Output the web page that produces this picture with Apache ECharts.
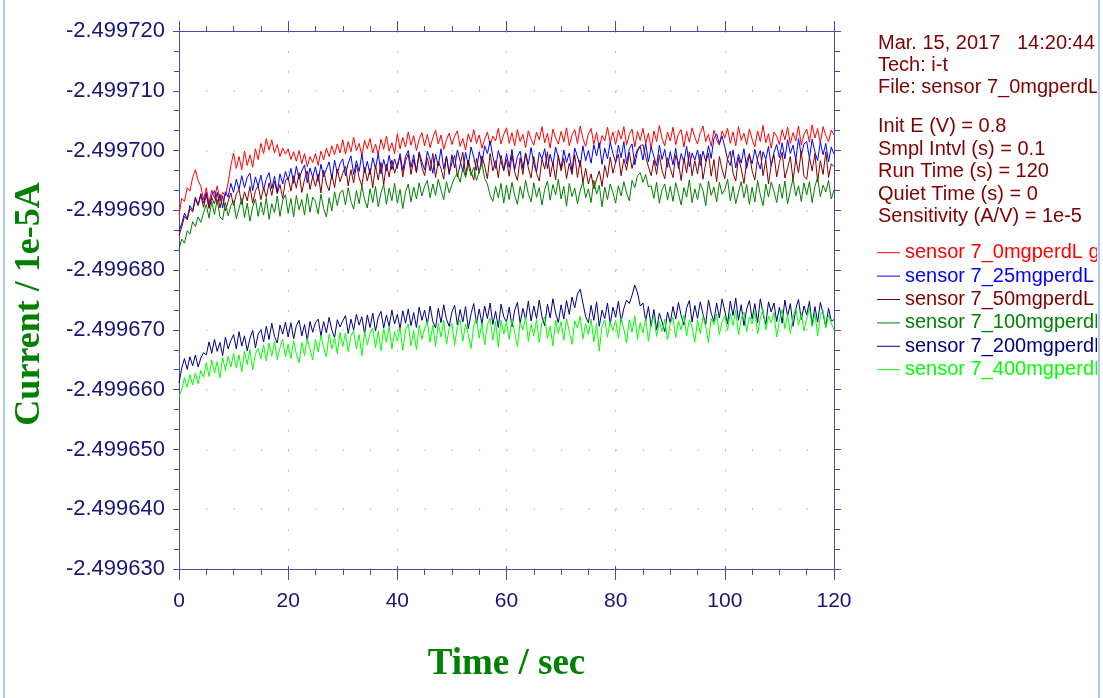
<!DOCTYPE html>
<html>
<head>
<meta charset="utf-8">
<title>i-t curves, sensor 7</title>
<script src="https://cdn.jsdelivr.net/npm/echarts@6/dist/echarts.min.js"></script>
<style>
  html, body { margin: 0; padding: 0; background: #ffffff; }
  #chart { width: 1103px; height: 698px; }
</style>
</head>
<body>
<div id="chart"></div>
<script>
// Amperometric i-t runs, current in units of 1e-5 A, one reading every 0.5 s from 0 to 120 s.
const sampleStep = 0.5;

const seriesNames = [
  'sensor 7_0mgperdL g',
  'sensor 7_25mgperdL',
  'sensor 7_50mgperdL',
  'sensor 7_100mgperdL',
  'sensor 7_200mgperdL',
  'sensor 7_400mgperdL'
];
const seriesColors = ['#ff0000', '#0000ff', '#800000', '#008000', '#000080', '#00ff00'];

const xTicks = [0, 20, 40, 60, 80, 100, 120];
const yTicks = [-2.49972, -2.49971, -2.4997, -2.49969, -2.49968, -2.49967, -2.49966, -2.49965, -2.49964, -2.49963];

const infoLines = [
  'Mar. 15, 2017   14:20:44',
  'Tech: i-t',
  'File: sensor 7_0mgperdL'
];
const paramLines = [
  'Init E (V) = 0.8',
  'Smpl Intvl (s) = 0.1',
  'Run Time (s) = 120',
  'Quiet Time (s) = 0',
  'Sensitivity (A/V) = 1e-5'
];

const current0 = [
-2.4996893,-2.4996920,-2.4996915,-2.4996938,-2.4996932,-2.4996955,-2.4996968,-2.4996950,-2.4996940,-2.4996918,
-2.4996938,-2.4996912,-2.4996934,-2.4996920,-2.4996941,-2.4996915,-2.4996930,-2.4996924,-2.4996946,-2.4996975,
-2.4996996,-2.4996970,-2.4996990,-2.4996968,-2.4996999,-2.4996975,-2.4996993,-2.4996972,-2.4997003,-2.4996985,
-2.4997012,-2.4996995,-2.4997020,-2.4997001,-2.4997018,-2.4996996,-2.4997010,-2.4996990,-2.4997004,-2.4996994,
-2.4997003,-2.4996985,-2.4996998,-2.4996982,-2.4997000,-2.4996978,-2.4996995,-2.4996973,-2.4996990,-2.4996980,
-2.4996995,-2.4996975,-2.4996999,-2.4996984,-2.4997004,-2.4996990,-2.4997008,-2.4996993,-2.4997011,-2.4996996,
-2.4997018,-2.4996994,-2.4997015,-2.4996998,-2.4997022,-2.4997000,-2.4997012,-2.4996991,-2.4997017,-2.4997003,
-2.4997020,-2.4996996,-2.4997011,-2.4996993,-2.4997019,-2.4997002,-2.4997024,-2.4996999,-2.4997013,-2.4996995,
-2.4997028,-2.4997003,-2.4997022,-2.4997006,-2.4997031,-2.4997009,-2.4997025,-2.4997000,-2.4997019,-2.4997030,
-2.4997008,-2.4997027,-2.4997005,-2.4997021,-2.4997034,-2.4997011,-2.4997026,-2.4997002,-2.4997018,-2.4997029,
-2.4997010,-2.4997024,-2.4997033,-2.4997007,-2.4997020,-2.4997001,-2.4997028,-2.4997014,-2.4997035,-2.4997012,
-2.4997026,-2.4997004,-2.4997019,-2.4997031,-2.4997009,-2.4997024,-2.4997016,-2.4997037,-2.4997011,-2.4997027,
-2.4997038,-2.4997012,-2.4997030,-2.4997008,-2.4997035,-2.4997015,-2.4997027,-2.4997005,-2.4997033,-2.4997019,
-2.4997009,-2.4997031,-2.4997018,-2.4997040,-2.4997013,-2.4997029,-2.4997004,-2.4997036,-2.4997021,-2.4997011,
-2.4997032,-2.4997014,-2.4997038,-2.4997008,-2.4997026,-2.4997035,-2.4997012,-2.4997041,-2.4997020,-2.4997007,
-2.4997028,-2.4997037,-2.4997011,-2.4997030,-2.4997004,-2.4997025,-2.4997016,-2.4997039,-2.4997013,-2.4997031,
-2.4997010,-2.4997034,-2.4997019,-2.4997040,-2.4997009,-2.4997027,-2.4997036,-2.4997006,-2.4997032,-2.4997017,
-2.4997037,-2.4997012,-2.4997029,-2.4997003,-2.4997033,-2.4997015,-2.4997042,-2.4997020,-2.4997008,-2.4997031,
-2.4997016,-2.4997039,-2.4997010,-2.4997028,-2.4997035,-2.4997006,-2.4997032,-2.4997014,-2.4997038,-2.4997022,
-2.4997011,-2.4997030,-2.4997041,-2.4997015,-2.4997027,-2.4997007,-2.4997034,-2.4997018,-2.4997009,-2.4997033,
-2.4997021,-2.4997037,-2.4997012,-2.4997031,-2.4997008,-2.4997040,-2.4997017,-2.4997029,-2.4997010,-2.4997036,
-2.4997019,-2.4997006,-2.4997033,-2.4997015,-2.4997042,-2.4997013,-2.4997028,-2.4997004,-2.4997031,-2.4997024,
-2.4997010,-2.4997035,-2.4997018,-2.4997039,-2.4997012,-2.4997030,-2.4997016,-2.4997041,-2.4997009,-2.4997027,
-2.4997036,-2.4997014,-2.4997043,-2.4997021,-2.4997037,-2.4997012,-2.4997040,-2.4997025,-2.4997015,-2.4997034,
-2.4997026
];

const current25 = [
-2.4996865,-2.4996878,-2.4996895,-2.4996886,-2.4996908,-2.4996900,-2.4996922,-2.4996909,-2.4996928,-2.4996912,
-2.4996930,-2.4996906,-2.4996925,-2.4996933,-2.4996910,-2.4996927,-2.4996904,-2.4996931,-2.4996922,-2.4996945,
-2.4996930,-2.4996952,-2.4996935,-2.4996958,-2.4996938,-2.4996955,-2.4996962,-2.4996933,-2.4996956,-2.4996940,
-2.4996959,-2.4996934,-2.4996953,-2.4996963,-2.4996936,-2.4996957,-2.4996930,-2.4996961,-2.4996944,-2.4996965,
-2.4996950,-2.4996970,-2.4996945,-2.4996974,-2.4996952,-2.4996966,-2.4996976,-2.4996946,-2.4996971,-2.4996955,
-2.4996973,-2.4996948,-2.4996977,-2.4996956,-2.4996969,-2.4996981,-2.4996952,-2.4996984,-2.4996962,-2.4996978,
-2.4996986,-2.4996958,-2.4996979,-2.4996991,-2.4996960,-2.4996983,-2.4996965,-2.4996994,-2.4996963,-2.4996982,
-2.4996960,-2.4996988,-2.4996970,-2.4996995,-2.4996961,-2.4996985,-2.4996966,-2.4996992,-2.4996968,-2.4996986,
-2.4996970,-2.4996995,-2.4996966,-2.4996990,-2.4997000,-2.4996972,-2.4996993,-2.4996964,-2.4996998,-2.4996981,
-2.4996968,-2.4996999,-2.4996985,-2.4996962,-2.4996994,-2.4996974,-2.4997003,-2.4996969,-2.4996991,-2.4996960,
-2.4996993,-2.4996971,-2.4997001,-2.4996983,-2.4996965,-2.4996997,-2.4996975,-2.4997006,-2.4996989,-2.4996967,
-2.4996998,-2.4996978,-2.4997008,-2.4996995,-2.4997016,-2.4996990,-2.4996970,-2.4997000,-2.4996982,-2.4996966,
-2.4996995,-2.4996972,-2.4997002,-2.4996968,-2.4996990,-2.4996999,-2.4996970,-2.4996996,-2.4996977,-2.4997005,
-2.4996978,-2.4996964,-2.4996997,-2.4996986,-2.4997003,-2.4996970,-2.4996994,-2.4996975,-2.4997006,-2.4996988,
-2.4996970,-2.4997001,-2.4996980,-2.4996996,-2.4996965,-2.4997004,-2.4996990,-2.4996973,-2.4997008,-2.4996983,
-2.4997000,-2.4996979,-2.4997010,-2.4996991,-2.4997013,-2.4996977,-2.4997004,-2.4996986,-2.4997014,-2.4996995,
-2.4996980,-2.4997009,-2.4996988,-2.4997015,-2.4996978,-2.4997003,-2.4997011,-2.4996976,-2.4996999,-2.4997007,
-2.4996984,-2.4997012,-2.4996981,-2.4997006,-2.4996990,-2.4996974,-2.4997009,-2.4996985,-2.4997002,-2.4996972,
-2.4996998,-2.4996976,-2.4997004,-2.4996970,-2.4996995,-2.4996981,-2.4997007,-2.4996973,-2.4996996,-2.4996984,
-2.4997001,-2.4996975,-2.4996999,-2.4996982,-2.4997008,-2.4996987,-2.4997020,-2.4997028,-2.4997012,-2.4997024,
-2.4997006,-2.4996985,-2.4996975,-2.4997001,-2.4996971,-2.4996994,-2.4996979,-2.4997003,-2.4996970,-2.4996992,
-2.4996978,-2.4997002,-2.4996983,-2.4996969,-2.4996998,-2.4996985,-2.4997007,-2.4996974,-2.4996997,-2.4997010,
-2.4996988,-2.4997013,-2.4996986,-2.4997018,-2.4996995,-2.4997009,-2.4996984,-2.4997020,-2.4996992,-2.4997011,
-2.4997015,-2.4996987,-2.4997019,-2.4996998,-2.4996983,-2.4997014,-2.4996993,-2.4997012,-2.4996981,-2.4997006,
-2.4996994
];

const current50 = [
-2.4996858,-2.4996872,-2.4996890,-2.4996884,-2.4996903,-2.4996897,-2.4996919,-2.4996908,-2.4996925,-2.4996905,
-2.4996926,-2.4996903,-2.4996921,-2.4996911,-2.4996930,-2.4996904,-2.4996924,-2.4996899,-2.4996915,-2.4996929,
-2.4996908,-2.4996927,-2.4996935,-2.4996910,-2.4996931,-2.4996916,-2.4996940,-2.4996912,-2.4996933,-2.4996941,
-2.4996918,-2.4996938,-2.4996922,-2.4996946,-2.4996925,-2.4996949,-2.4996928,-2.4996943,-2.4996920,-2.4996950,
-2.4996955,-2.4996932,-2.4996958,-2.4996937,-2.4996963,-2.4996930,-2.4996952,-2.4996966,-2.4996935,-2.4996957,
-2.4996940,-2.4996961,-2.4996929,-2.4996967,-2.4996944,-2.4996933,-2.4996960,-2.4996938,-2.4996969,-2.4996948,
-2.4996962,-2.4996974,-2.4996941,-2.4996968,-2.4996946,-2.4996976,-2.4996955,-2.4996940,-2.4996972,-2.4996949,
-2.4996970,-2.4996938,-2.4996975,-2.4996951,-2.4996980,-2.4996943,-2.4996977,-2.4996956,-2.4996984,-2.4996962,
-2.4996977,-2.4996990,-2.4996956,-2.4996983,-2.4996994,-2.4996960,-2.4996985,-2.4996963,-2.4996996,-2.4996972,
-2.4996958,-2.4996988,-2.4996966,-2.4996995,-2.4996955,-2.4996982,-2.4996970,-2.4996952,-2.4996990,-2.4996963,
-2.4996979,-2.4996992,-2.4996956,-2.4996976,-2.4996997,-2.4996959,-2.4996984,-2.4996965,-2.4996951,-2.4996987,
-2.4996962,-2.4996991,-2.4996974,-2.4996953,-2.4996995,-2.4996966,-2.4996983,-2.4996955,-2.4996992,-2.4996968,
-2.4996985,-2.4996957,-2.4996993,-2.4996964,-2.4996950,-2.4996988,-2.4996960,-2.4996996,-2.4996971,-2.4996954,
-2.4996990,-2.4996962,-2.4996949,-2.4996986,-2.4996969,-2.4996998,-2.4996956,-2.4996980,-2.4996951,-2.4996992,
-2.4996966,-2.4996987,-2.4996953,-2.4996979,-2.4996960,-2.4996993,-2.4996955,-2.4996984,-2.4996946,-2.4996970,
-2.4996944,-2.4996961,-2.4996936,-2.4996952,-2.4996966,-2.4996940,-2.4996975,-2.4996955,-2.4996989,-2.4996962,
-2.4996981,-2.4996994,-2.4996958,-2.4996986,-2.4996967,-2.4996997,-2.4996970,-2.4996988,-2.4997002,-2.4997008,
-2.4997010,-2.4996990,-2.4996973,-2.4996958,-2.4996984,-2.4996960,-2.4996993,-2.4996966,-2.4996953,-2.4996988,
-2.4996970,-2.4996955,-2.4996992,-2.4996980,-2.4996950,-2.4996987,-2.4996963,-2.4996998,-2.4996958,-2.4996983,
-2.4996961,-2.4996994,-2.4996952,-2.4996979,-2.4996996,-2.4996957,-2.4996985,-2.4996948,-2.4996990,-2.4996968,
-2.4996953,-2.4996986,-2.4996999,-2.4996962,-2.4996949,-2.4996988,-2.4996970,-2.4996945,-2.4996982,-2.4996995,
-2.4996966,-2.4996951,-2.4996987,-2.4997000,-2.4996958,-2.4996984,-2.4996944,-2.4996976,-2.4996993,-2.4996956,
-2.4996980,-2.4996997,-2.4996954,-2.4996971,-2.4996990,-2.4996950,-2.4996986,-2.4996963,-2.4996999,-2.4996957,
-2.4996952,-2.4996989,-2.4996966,-2.4996995,-2.4996948,-2.4996983,-2.4996960,-2.4996998,-2.4996955,-2.4996978,
-2.4996973
];

const current100 = [
-2.4996835,-2.4996852,-2.4996845,-2.4996866,-2.4996860,-2.4996881,-2.4996873,-2.4996889,-2.4996880,-2.4996896,
-2.4996910,-2.4996887,-2.4996915,-2.4996893,-2.4996918,-2.4996889,-2.4996884,-2.4996913,-2.4996891,-2.4996908,
-2.4996916,-2.4996886,-2.4996903,-2.4996920,-2.4996888,-2.4996912,-2.4996882,-2.4996906,-2.4996919,-2.4996890,
-2.4996914,-2.4996892,-2.4996921,-2.4996885,-2.4996911,-2.4996896,-2.4996924,-2.4996890,-2.4996917,-2.4996926,
-2.4996895,-2.4996920,-2.4996889,-2.4996925,-2.4996901,-2.4996918,-2.4996892,-2.4996928,-2.4996897,-2.4996922,
-2.4996915,-2.4996894,-2.4996927,-2.4996903,-2.4996889,-2.4996921,-2.4996899,-2.4996931,-2.4996908,-2.4996929,
-2.4996934,-2.4996909,-2.4996938,-2.4996915,-2.4996902,-2.4996933,-2.4996911,-2.4996941,-2.4996918,-2.4996904,
-2.4996936,-2.4996913,-2.4996940,-2.4996906,-2.4996929,-2.4996943,-2.4996910,-2.4996937,-2.4996916,-2.4996945,
-2.4996912,-2.4996935,-2.4996903,-2.4996931,-2.4996944,-2.4996914,-2.4996939,-2.4996919,-2.4996946,-2.4996924,
-2.4996940,-2.4996950,-2.4996921,-2.4996944,-2.4996925,-2.4996952,-2.4996934,-2.4996918,-2.4996948,-2.4996929,
-2.4996943,-2.4996955,-2.4996962,-2.4996947,-2.4996970,-2.4996955,-2.4996976,-2.4996958,-2.4996972,-2.4996950,
-2.4996965,-2.4996978,-2.4996953,-2.4996944,-2.4996925,-2.4996915,-2.4996940,-2.4996921,-2.4996945,-2.4996912,
-2.4996942,-2.4996918,-2.4996947,-2.4996925,-2.4996910,-2.4996940,-2.4996920,-2.4996950,-2.4996928,-2.4996914,
-2.4996946,-2.4996922,-2.4996938,-2.4996909,-2.4996935,-2.4996949,-2.4996917,-2.4996943,-2.4996926,-2.4996952,
-2.4996919,-2.4996940,-2.4996907,-2.4996945,-2.4996923,-2.4996937,-2.4996911,-2.4996933,-2.4996948,-2.4996921,
-2.4996936,-2.4996913,-2.4996950,-2.4996927,-2.4996942,-2.4996906,-2.4996939,-2.4996918,-2.4996944,-2.4996930,
-2.4996912,-2.4996941,-2.4996924,-2.4996948,-2.4996929,-2.4996916,-2.4996950,-2.4996938,-2.4996958,-2.4996963,
-2.4996947,-2.4996960,-2.4996939,-2.4996941,-2.4996920,-2.4996947,-2.4996912,-2.4996935,-2.4996944,-2.4996917,
-2.4996940,-2.4996915,-2.4996946,-2.4996928,-2.4996909,-2.4996938,-2.4996922,-2.4996951,-2.4996913,-2.4996936,
-2.4996918,-2.4996945,-2.4996933,-2.4996908,-2.4996949,-2.4996925,-2.4996939,-2.4996914,-2.4996947,-2.4996927,
-2.4996935,-2.4996952,-2.4996916,-2.4996940,-2.4996911,-2.4996930,-2.4996948,-2.4996921,-2.4996943,-2.4996910,
-2.4996939,-2.4996914,-2.4996950,-2.4996926,-2.4996908,-2.4996944,-2.4996922,-2.4996947,-2.4996932,-2.4996913,
-2.4996944,-2.4996920,-2.4996949,-2.4996911,-2.4996933,-2.4996953,-2.4996924,-2.4996941,-2.4996915,-2.4996946,
-2.4996926,-2.4996948,-2.4996913,-2.4996940,-2.4996955,-2.4996923,-2.4996942,-2.4996931,-2.4996950,-2.4996919,
-2.4996934
];

const current200 = [
-2.4996611,-2.4996636,-2.4996652,-2.4996634,-2.4996655,-2.4996640,-2.4996658,-2.4996638,-2.4996653,-2.4996662,
-2.4996658,-2.4996680,-2.4996661,-2.4996684,-2.4996664,-2.4996679,-2.4996657,-2.4996688,-2.4996668,-2.4996682,
-2.4996692,-2.4996668,-2.4996697,-2.4996673,-2.4996690,-2.4996665,-2.4996686,-2.4996699,-2.4996670,-2.4996693,
-2.4996700,-2.4996680,-2.4996706,-2.4996684,-2.4996711,-2.4996689,-2.4996678,-2.4996708,-2.4996693,-2.4996713,
-2.4996688,-2.4996712,-2.4996685,-2.4996707,-2.4996716,-2.4996690,-2.4996709,-2.4996682,-2.4996714,-2.4996696,
-2.4996712,-2.4996718,-2.4996690,-2.4996714,-2.4996695,-2.4996721,-2.4996700,-2.4996687,-2.4996717,-2.4996705,
-2.4996715,-2.4996724,-2.4996694,-2.4996718,-2.4996700,-2.4996726,-2.4996708,-2.4996722,-2.4996693,-2.4996725,
-2.4996704,-2.4996728,-2.4996698,-2.4996721,-2.4996731,-2.4996703,-2.4996725,-2.4996706,-2.4996733,-2.4996710,
-2.4996726,-2.4996702,-2.4996732,-2.4996711,-2.4996735,-2.4996707,-2.4996729,-2.4996704,-2.4996738,-2.4996716,
-2.4996733,-2.4996709,-2.4996740,-2.4996714,-2.4996703,-2.4996736,-2.4996712,-2.4996742,-2.4996718,-2.4996706,
-2.4996730,-2.4996741,-2.4996708,-2.4996734,-2.4996713,-2.4996739,-2.4996702,-2.4996727,-2.4996744,-2.4996711,
-2.4996735,-2.4996710,-2.4996740,-2.4996719,-2.4996745,-2.4996709,-2.4996731,-2.4996704,-2.4996743,-2.4996722,
-2.4996713,-2.4996738,-2.4996705,-2.4996733,-2.4996746,-2.4996711,-2.4996736,-2.4996717,-2.4996748,-2.4996715,
-2.4996740,-2.4996719,-2.4996750,-2.4996722,-2.4996707,-2.4996743,-2.4996720,-2.4996752,-2.4996728,-2.4996712,
-2.4996742,-2.4996718,-2.4996749,-2.4996726,-2.4996755,-2.4996737,-2.4996760,-2.4996768,-2.4996745,-2.4996722,
-2.4996712,-2.4996741,-2.4996716,-2.4996747,-2.4996706,-2.4996733,-2.4996719,-2.4996745,-2.4996710,-2.4996738,
-2.4996721,-2.4996748,-2.4996714,-2.4996736,-2.4996750,-2.4996744,-2.4996758,-2.4996775,-2.4996762,-2.4996740,
-2.4996745,-2.4996715,-2.4996739,-2.4996706,-2.4996734,-2.4996700,-2.4996728,-2.4996713,-2.4996697,-2.4996730,
-2.4996712,-2.4996739,-2.4996718,-2.4996746,-2.4996724,-2.4996708,-2.4996737,-2.4996749,-2.4996713,-2.4996741,
-2.4996719,-2.4996747,-2.4996726,-2.4996709,-2.4996750,-2.4996728,-2.4996714,-2.4996745,-2.4996720,-2.4996752,
-2.4996731,-2.4996710,-2.4996748,-2.4996724,-2.4996753,-2.4996716,-2.4996742,-2.4996707,-2.4996735,-2.4996749,
-2.4996718,-2.4996744,-2.4996712,-2.4996752,-2.4996727,-2.4996709,-2.4996747,-2.4996730,-2.4996745,-2.4996714,
-2.4996738,-2.4996711,-2.4996750,-2.4996723,-2.4996744,-2.4996706,-2.4996735,-2.4996751,-2.4996717,-2.4996740,
-2.4996725,-2.4996748,-2.4996708,-2.4996739,-2.4996713,-2.4996746,-2.4996727,-2.4996705,-2.4996736,-2.4996715,
-2.4996717
];

const current400 = [
-2.4996588,-2.4996600,-2.4996620,-2.4996604,-2.4996625,-2.4996608,-2.4996628,-2.4996610,-2.4996632,-2.4996621,
-2.4996645,-2.4996622,-2.4996650,-2.4996628,-2.4996647,-2.4996620,-2.4996654,-2.4996632,-2.4996656,-2.4996638,
-2.4996661,-2.4996636,-2.4996658,-2.4996630,-2.4996664,-2.4996642,-2.4996667,-2.4996633,-2.4996660,-2.4996669,
-2.4996652,-2.4996675,-2.4996648,-2.4996678,-2.4996656,-2.4996681,-2.4996650,-2.4996670,-2.4996684,-2.4996655,
-2.4996676,-2.4996652,-2.4996682,-2.4996660,-2.4996645,-2.4996679,-2.4996657,-2.4996686,-2.4996668,-2.4996650,
-2.4996684,-2.4996663,-2.4996691,-2.4996670,-2.4996655,-2.4996693,-2.4996668,-2.4996688,-2.4996660,-2.4996696,
-2.4996672,-2.4996695,-2.4996664,-2.4996690,-2.4996699,-2.4996668,-2.4996692,-2.4996657,-2.4996697,-2.4996675,
-2.4996694,-2.4996703,-2.4996670,-2.4996698,-2.4996665,-2.4996702,-2.4996679,-2.4996706,-2.4996668,-2.4996697,
-2.4996681,-2.4996704,-2.4996666,-2.4996700,-2.4996710,-2.4996673,-2.4996699,-2.4996667,-2.4996708,-2.4996684,
-2.4996703,-2.4996714,-2.4996679,-2.4996708,-2.4996672,-2.4996711,-2.4996688,-2.4996716,-2.4996676,-2.4996702,
-2.4996711,-2.4996674,-2.4996706,-2.4996717,-2.4996681,-2.4996710,-2.4996692,-2.4996669,-2.4996708,-2.4996719,
-2.4996686,-2.4996712,-2.4996675,-2.4996709,-2.4996720,-2.4996683,-2.4996714,-2.4996671,-2.4996716,-2.4996693,
-2.4996715,-2.4996684,-2.4996718,-2.4996695,-2.4996672,-2.4996713,-2.4996700,-2.4996721,-2.4996681,-2.4996709,
-2.4996690,-2.4996717,-2.4996679,-2.4996712,-2.4996722,-2.4996686,-2.4996706,-2.4996673,-2.4996716,-2.4996694,
-2.4996714,-2.4996683,-2.4996719,-2.4996697,-2.4996676,-2.4996715,-2.4996703,-2.4996723,-2.4996685,-2.4996710,
-2.4996692,-2.4996718,-2.4996680,-2.4996711,-2.4996665,-2.4996706,-2.4996717,-2.4996688,-2.4996714,-2.4996699,
-2.4996716,-2.4996686,-2.4996720,-2.4996701,-2.4996678,-2.4996717,-2.4996696,-2.4996724,-2.4996684,-2.4996712,
-2.4996695,-2.4996719,-2.4996681,-2.4996710,-2.4996723,-2.4996689,-2.4996714,-2.4996697,-2.4996718,-2.4996683,
-2.4996711,-2.4996721,-2.4996687,-2.4996715,-2.4996700,-2.4996725,-2.4996690,-2.4996717,-2.4996705,-2.4996680,
-2.4996716,-2.4996694,-2.4996722,-2.4996706,-2.4996679,-2.4996719,-2.4996709,-2.4996727,-2.4996692,-2.4996714,
-2.4996724,-2.4996699,-2.4996728,-2.4996707,-2.4996733,-2.4996692,-2.4996718,-2.4996730,-2.4996697,-2.4996722,
-2.4996710,-2.4996731,-2.4996693,-2.4996720,-2.4996735,-2.4996700,-2.4996723,-2.4996712,-2.4996729,-2.4996688,
-2.4996717,-2.4996734,-2.4996702,-2.4996726,-2.4996694,-2.4996721,-2.4996737,-2.4996708,-2.4996727,-2.4996698,
-2.4996719,-2.4996736,-2.4996705,-2.4996728,-2.4996690,-2.4996724,-2.4996733,-2.4996703,-2.4996725,-2.4996711,
-2.4996700
];

const seriesValues = [current0, current25, current50, current100, current200, current400];

const AXIS_COLOR = '#4b4baa';
const LABEL_COLOR = '#161678';
const INFO_COLOR = '#800000';
const TITLE_COLOR = '#008000';
const DOT_COLOR = '#c4c496';
const SANS = '"Liberation Sans", Arial, sans-serif';
const SERIF = '"Liberation Serif", "Times New Roman", serif';

function toPairs(values) {
  return values.map((v, i) => [i * sampleStep, v]);
}

const chart = echarts.init(document.getElementById('chart'), null, { renderer: 'canvas' });

// Run header and parameter block on the right
const infoGraphics = [];
infoLines.forEach((t, i) => {
  infoGraphics.push({
    type: 'text', x: 878, y: 43 + i * 22.2, z: 10,
    style: { text: t, fill: INFO_COLOR, font: '20px ' + SANS, textVerticalAlign: 'middle' }
  });
});
paramLines.forEach((t, i) => {
  infoGraphics.push({
    type: 'text', x: 878, y: 126.5 + i * 22.5, z: 10,
    style: { text: t, fill: INFO_COLOR, font: '20px ' + SANS, textVerticalAlign: 'middle' }
  });
});

const xRange = { min: xTicks[0], max: xTicks[xTicks.length - 1], interval: 20 };
const yRange = { min: yTicks[0], max: yTicks[yTicks.length - 1], interval: 0.00001 };

const option = {
  animation: false,
  backgroundColor: '#ffffff',
  grid: { left: 179, top: 31, width: 655, height: 538, containLabel: false },
  legend: {
    orient: 'vertical',
    left: 877,
    top: 241,
    padding: 0,
    itemGap: 0,
    itemWidth: 23,
    itemHeight: 1,
    icon: 'rect',
    selectedMode: false,
    textStyle: { fontFamily: SANS, fontSize: 20, lineHeight: 23.4 },
    data: seriesNames.map((n, i) => ({ name: n, textStyle: { color: seriesColors[i] } }))
  },
  xAxis: [
    Object.assign({
      type: 'value', position: 'bottom',
      axisLine: { show: true, onZero: false, lineStyle: { color: AXIS_COLOR, width: 1 } },
      axisTick: { show: true, length: 11, lineStyle: { color: AXIS_COLOR } },
      minorTick: { show: true, splitNumber: 4, length: 6, lineStyle: { color: AXIS_COLOR } },
      axisLabel: { color: LABEL_COLOR, fontFamily: SANS, fontSize: 21, margin: 22 },
      splitLine: { show: true, lineStyle: { color: DOT_COLOR, width: 1, type: [2, 17.93] } },
      name: 'Time / sec',
      nameLocation: 'middle',
      nameGap: 77,
      nameTextStyle: { color: TITLE_COLOR, fontFamily: SERIF, fontWeight: 'bold', fontSize: 37 }
    }, xRange),
    Object.assign({
      type: 'value', position: 'top',
      axisLine: { show: true, onZero: false, lineStyle: { color: AXIS_COLOR, width: 1 } },
      axisTick: { show: true, length: 10, lineStyle: { color: AXIS_COLOR } },
      minorTick: { show: true, splitNumber: 4, length: 5, lineStyle: { color: AXIS_COLOR } },
      axisLabel: { show: false },
      splitLine: { show: false }
    }, xRange),
    // short inner stubs of the major time ticks
    Object.assign({
      type: 'value', position: 'bottom', offset: 0,
      axisLine: { show: false, onZero: false },
      axisTick: { show: true, inside: true, length: 3, lineStyle: { color: AXIS_COLOR } },
      minorTick: { show: false },
      axisLabel: { show: false },
      splitLine: { show: false }
    }, xRange)
  ],
  yAxis: [
    Object.assign({
      type: 'value', position: 'left', inverse: true,
      axisLine: { show: true, onZero: false, lineStyle: { color: AXIS_COLOR, width: 1 } },
      axisTick: { show: true, length: 6, lineStyle: { color: AXIS_COLOR } },
      minorTick: { show: true, splitNumber: 3, length: 5, lineStyle: { color: AXIS_COLOR } },
      axisLabel: { color: LABEL_COLOR, fontFamily: SANS, fontSize: 22, margin: 14,
                   formatter: v => v.toFixed(6) },
      splitLine: { show: true, lineStyle: { color: DOT_COLOR, width: 2, type: [1, 26.29] } },
      name: 'Current / 1e-5A',
      nameLocation: 'middle',
      nameRotate: 90,
      nameGap: 131,
      nameTextStyle: { color: TITLE_COLOR, fontFamily: SERIF, fontWeight: 'bold', fontSize: 36,
                       padding: [0, 8, 0, 0] }
    }, yRange),
    Object.assign({
      type: 'value', position: 'right', inverse: true,
      axisLine: { show: true, onZero: false, lineStyle: { color: AXIS_COLOR, width: 1 } },
      axisTick: { show: true, length: 7, lineStyle: { color: AXIS_COLOR } },
      minorTick: { show: true, splitNumber: 3, length: 6, lineStyle: { color: AXIS_COLOR } },
      axisLabel: { show: false },
      splitLine: { show: false }
    }, yRange)
  ],
  series: seriesNames.map((name, i) => ({
    name: name,
    type: 'line',
    xAxisIndex: 0,
    yAxisIndex: 0,
    showSymbol: false,
    symbol: 'none',
    color: seriesColors[i],
    lineStyle: { color: seriesColors[i], width: 1 },
    emphasis: { disabled: true },
    data: toPairs(seriesValues[i])
  })),
  graphic: infoGraphics.concat([
    // window frame edges
    { type: 'rect', z: 100, shape: { x: 1097, y: 0, width: 6, height: 698 }, style: { fill: '#ffffff' } },
    { type: 'rect', z: 101, shape: { x: 1098, y: 0, width: 2, height: 698 }, style: { fill: '#a9c8ec' } },
    { type: 'rect', z: 101, shape: { x: 3, y: 0, width: 2, height: 698 }, style: { fill: '#a9c8ec' } }
  ])
};

chart.setOption(option);
</script>
</body>
</html>
